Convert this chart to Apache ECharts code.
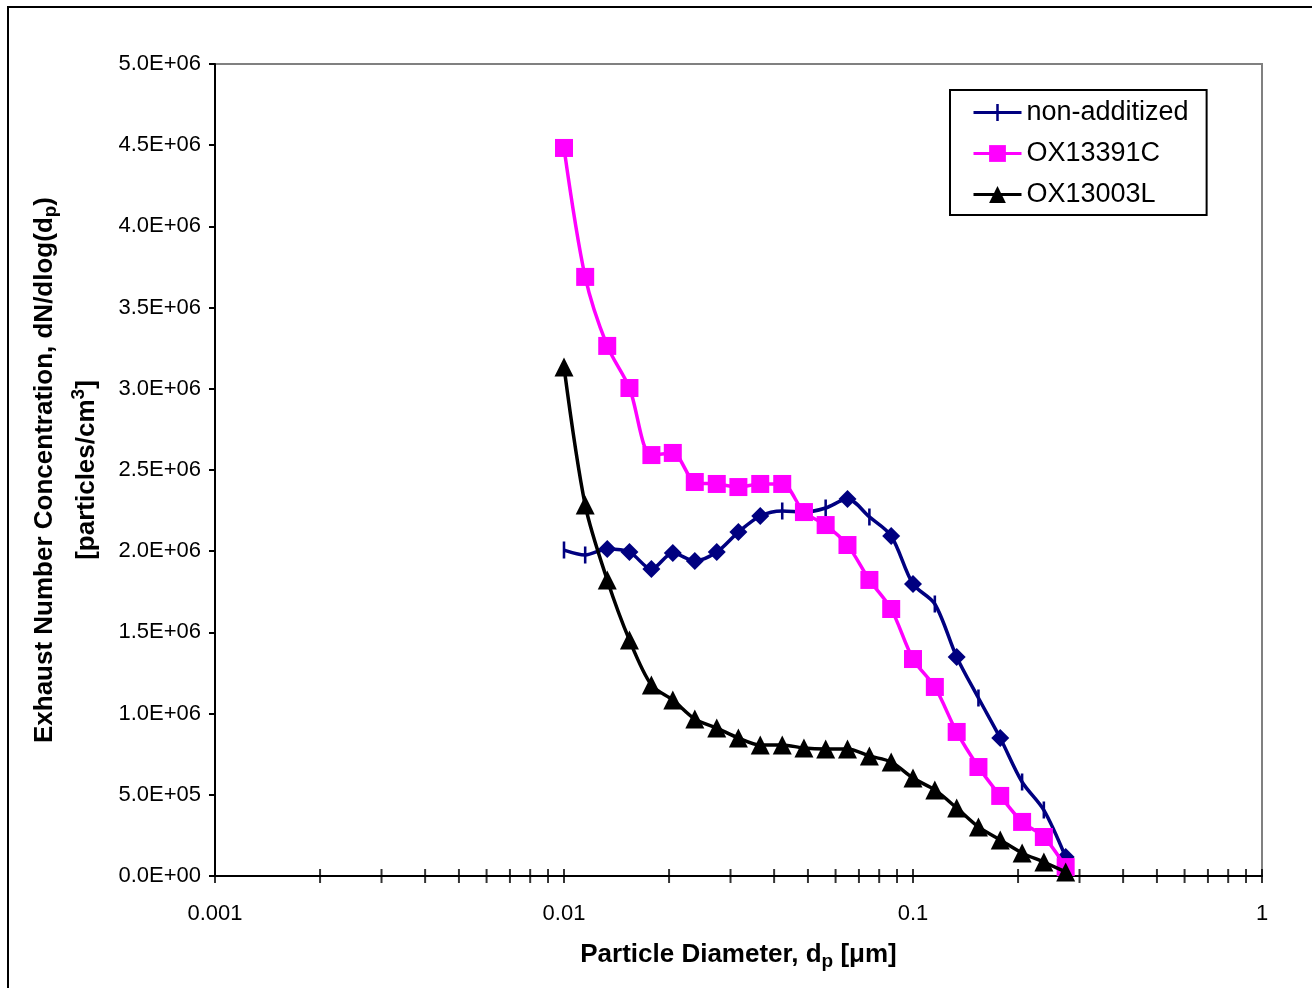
<!DOCTYPE html>
<html>
<head>
<meta charset="utf-8">
<script src="https://cdn.jsdelivr.net/npm/echarts@6/dist/echarts.min.js"></script>
<style>
  html, body { margin: 0; padding: 0; background: #fff; }
  #main { width: 1312px; height: 988px; }
</style>
</head>
<body>
<div id="main"></div>
<script>
// particle diameter (um), SMPS channels
const diameters = [0.01, 0.0115, 0.0133, 0.0154, 0.0178, 0.0205, 0.0237, 0.0274, 0.0316, 0.0365,
  0.0422, 0.0487, 0.0562, 0.0649, 0.075, 0.0866, 0.1, 0.1155, 0.1334, 0.154, 0.1778, 0.2054, 0.2371, 0.2738];

const nonAdditized = [2.007e6, 1.977e6, 2.014e6, 1.995e6, 1.890e6, 1.989e6, 1.940e6, 1.995e6, 2.118e6, 2.217e6,
  2.248e6, 2.240e6, 2.266e6, 2.321e6, 2.211e6, 2.094e6, 1.798e6, 1.675e6, 1.349e6, 1.096e6,
  0.850e6, 0.579e6, 0.406e6, 0.117e6];

const ox13391c = [4.483e6, 3.689e6, 3.264e6, 3.005e6, 2.592e6, 2.605e6, 2.426e6, 2.414e6, 2.395e6, 2.414e6,
  2.414e6, 2.241e6, 2.161e6, 2.038e6, 1.823e6, 1.644e6, 1.336e6, 1.164e6, 0.887e6, 0.671e6,
  0.493e6, 0.333e6, 0.240e6, 0.055e6];

const ox13003l = [3.134e6, 2.284e6, 1.823e6, 1.453e6, 1.176e6, 1.084e6, 0.967e6, 0.911e6, 0.850e6, 0.807e6,
  0.807e6, 0.788e6, 0.782e6, 0.782e6, 0.739e6, 0.702e6, 0.603e6, 0.530e6, 0.419e6, 0.302e6,
  0.222e6, 0.142e6, 0.086e6, 0.025e6];

// points of the navy curve that show a diamond instead of the tick marker
const diamondPoints = [2, 3, 4, 5, 6, 7, 8, 9, 13, 15, 16, 18, 20, 23];

// x axis tick positions (major + minor, log axis)
const xTicks = [0.001, 0.002, 0.003, 0.004, 0.005, 0.006, 0.007, 0.008, 0.009,
  0.01, 0.02, 0.03, 0.04, 0.05, 0.06, 0.07, 0.08, 0.09,
  0.1, 0.2, 0.3, 0.4, 0.5, 0.6, 0.7, 0.8, 0.9, 1];

const FONT = 'Liberation Sans, Arial, sans-serif';
// thin vertical bar inside a square box (empty corner points fix the box)
const VBAR = 'path://M0,0L0,0Z M6.8,0H9.2V16H6.8Z M16,16L16,16Z';

function sci(v) {
  if (v === 0) return '0.0E+00';
  const e = Math.floor(Math.log10(v) + 1e-9);
  const m = v / Math.pow(10, e);
  return m.toFixed(1) + 'E+' + (e < 10 ? '0' + e : e);
}

window.onload = function () {
  const chart = echarts.init(document.getElementById('main'));

  const navyData = diameters.map(function (d, i) {
    if (diamondPoints.indexOf(i) >= 0) {
      return { value: [d, nonAdditized[i]], symbol: 'diamond', symbolSize: 18 };
    }
    return [d, nonAdditized[i]];
  });

  const option = {
    backgroundColor: '#fff',
    animation: false,
    graphic: [{
      type: 'rect',
      shape: { x: 8, y: 7, width: 1330, height: 1000 },
      style: { fill: 'none', stroke: '#000', lineWidth: 2 },
      silent: true
    }],
    grid: {
      left: 215, right: 50, top: 64, bottom: 112,
      outerBoundsMode: 'none', containLabel: false,
      show: true, borderColor: '#808080', borderWidth: 2, backgroundColor: '#fff'
    },
    legend: {
      orient: 'vertical',
      left: 950, top: 90,
      backgroundColor: '#fff',
      borderColor: '#000', borderWidth: 2, borderRadius: 0,
      padding: [9, 18, 7, 22],
      itemWidth: 48, itemHeight: 21, itemGap: 14,
      lineStyle: { width: 3 },
      textStyle: { fontFamily: FONT, fontSize: 27, color: '#000' },
      data: ['non-additized', 'OX13391C', 'OX13003L']
    },
    xAxis: {
      type: 'log', logBase: 10, min: 0.001, max: 1,
      name: 'Particle Diameter, d{sub|p} [μm]',
      nameLocation: 'middle', nameGap: 62,
      nameTextStyle: {
        fontFamily: FONT, fontSize: 26, fontWeight: 'bold', color: '#000',
        rich: { sub: { fontFamily: FONT, fontSize: 19, fontWeight: 'bold', verticalAlign: 'bottom', padding: [14, 0, 0, 0] } }
      },
      axisLine: { lineStyle: { color: '#000', width: 2 } },
      axisTick: { show: false },
      splitLine: { show: false },
      axisLabel: {
        fontFamily: FONT, fontSize: 22, color: '#000', margin: 27,
        formatter: function (v) { return String(+v.toPrecision(3)); }
      }
    },
    yAxis: {
      type: 'value', min: 0, max: 5e6, interval: 5e5,
      name: 'Exhaust Number Concentration, dN/dlog(d{sub|p})\n[particles/cm{sup|3}]',
      nameLocation: 'middle', nameGap: 99, nameRotate: 90,
      nameTextStyle: {
        fontFamily: FONT, fontSize: 26, fontWeight: 'bold', color: '#000', lineHeight: 42,
        rich: {
          sub: { fontFamily: FONT, fontSize: 19, fontWeight: 'bold', padding: [12, 0, 0, 0] },
          sup: { fontFamily: FONT, fontSize: 19, fontWeight: 'bold', padding: [0, 0, 16, 0] }
        }
      },
      axisLine: { show: true, lineStyle: { color: '#000', width: 2 } },
      axisTick: { show: true, length: 6, lineStyle: { color: '#000', width: 2 } },
      splitLine: { show: false },
      axisLabel: { fontFamily: FONT, fontSize: 22, color: '#000', margin: 14, formatter: sci }
    },
    series: [
      {
        name: 'non-additized', type: 'line', smooth: 0.3,
        data: navyData,
        symbol: VBAR, symbolSize: 17,
        itemStyle: { color: '#000080' },
        lineStyle: { color: '#000080', width: 3.5 },
        z: 3
      },
      {
        name: 'OX13391C', type: 'line', smooth: 0.3,
        data: diameters.map(function (d, i) { return [d, ox13391c[i]]; }),
        symbol: 'rect', symbolSize: 18,
        itemStyle: { color: '#ff00ff' },
        lineStyle: { color: '#ff00ff', width: 3.5 },
        z: 4
      },
      {
        name: 'OX13003L', type: 'line', smooth: 0.3,
        data: diameters.map(function (d, i) { return [d, ox13003l[i]]; }),
        symbol: 'triangle', symbolSize: 19,
        itemStyle: { color: '#000' },
        lineStyle: { color: '#000', width: 3.5 },
        z: 5
      },
      {
        // x axis tick marks crossing the axis line
        name: 'ticks', type: 'scatter', silent: true,
        data: xTicks.map(function (t) { return [t, 0]; }),
        symbol: 'rect', symbolSize: [2, 14],
        itemStyle: { color: '#000' },
        z: 2
      }
    ]
  };

  chart.setOption(option);
};
</script>
</body>
</html>
